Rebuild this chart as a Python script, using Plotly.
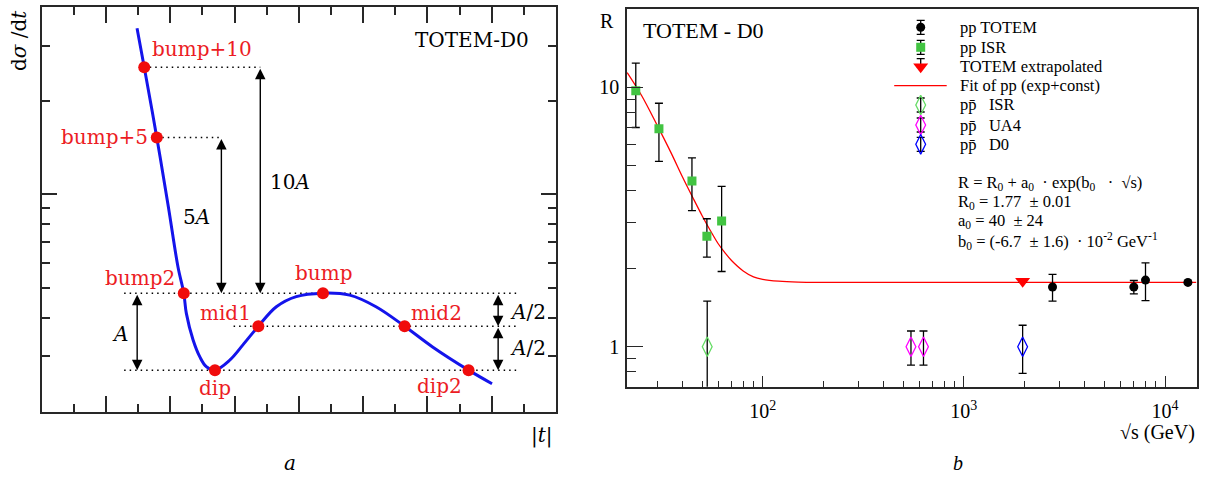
import numpy as np
import plotly.graph_objects as go

# ---------------- Panel a (schematic) ----------------
curve_t = [2.966, 3.19, 3.58, 3.94, 4.24, 4.42, 4.50, 4.71, 4.92, 5.12, 5.39, 5.85, 6.26,
           6.74, 7.30, 7.92, 8.75, 9.58, 10.40, 11.29, 12.16, 13.28, 14.01]
curve_ds = [3.43, 2.57, 1.525, 0.912, 0.583, 0.48, 0.413, 0.339, 0.299, 0.278, 0.271, 0.292, 0.327,
            0.3755, 0.434, 0.468, 0.48, 0.473, 0.434, 0.3755, 0.322, 0.271, 0.245]

pt_names = ["bump+10", "bump+5", "bump2", "dip", "mid1", "bump", "mid2", "dip2"]
pt_t = [3.19, 3.58, 4.42, 5.39, 6.74, 8.75, 11.29, 13.28]
pt_ds = [2.57, 1.525, 0.48, 0.271, 0.3755, 0.48, 0.3755, 0.271]

# ---------------- Panel b (data) ----------------
isr_pp_x = [23.4, 30.5, 44.5, 52.8, 62.5]
isr_pp_y = [9.70, 6.93, 4.35, 2.665, 3.05]
isr_pp_err = [2.7, 1.75, 1.0, 0.45, 1.1]

totem_x = [2760, 7000, 8000, 13000]
totem_y = [1.70, 1.70, 1.807, 1.77]
totem_err = [0.2, 0.1, 0.3, 0.02]

totem_extrap_x = [1960]
totem_extrap_y = [1.79]
totem_extrap_err = [0.02]

isr_ppbar_x = [53.0]
isr_ppbar_y = [1.0]
isr_ppbar_err = [0.5]

ua4_x = [546, 630]
ua4_y = [1.0, 1.0]
ua4_err = [0.15, 0.15]

d0_x = [1960]
d0_y = [1.0]
d0_err = [0.21]

fit_x = [21.2, 25, 30, 35, 40, 45, 50, 55, 60, 65, 70, 80, 90, 100, 120, 150, 200, 500, 2000, 14300]
fit_y = [11.4, 9.3, 7.1, 5.6, 4.5, 3.75, 3.2, 2.8, 2.5, 2.3, 2.15, 1.96, 1.86, 1.82, 1.79, 1.775,
         1.77, 1.77, 1.77, 1.77]

PBAR = "p\u0304"
legend_labels = ["pp TOTEM", "pp ISR", "TOTEM extrapolated", "Fit of pp (exp+const)",
                 "p" + PBAR + "\u00a0\u00a0 ISR", "p" + PBAR + "\u00a0\u00a0 UA4", "p" + PBAR + "\u00a0\u00a0 D0"]

formula_lines = [
    "R = R<sub>0</sub> + a<sub>0</sub> \u00a0· exp(b<sub>0</sub> \u00a0\u00a0· \u00a0\u221as)",
    "R<sub>0</sub> = 1.77 \u00a0± 0.01",
    "a<sub>0</sub> = 40 \u00a0± 24",
    "b<sub>0</sub> = (-6.7 \u00a0± 1.6) \u00a0· 10<sup>-2</sup> GeV<sup>-1</sup>",
]

W, H = 1206, 477
SERIF_A = "DejaVu Serif"
SERIF_B = "Liberation Serif"
RED = "rgb(236,28,36)"

fig = go.Figure()

# ---- panel a traces ----
L = np.log10
guides = [  # (t_start, t_end, level)
    (pt_t[0], 6.80, pt_ds[0]),
    (pt_t[1], 5.59, pt_ds[1]),
    (2.565, 14.80, pt_ds[5]),
    (5.97, 14.80, pt_ds[4]),
    (2.565, 14.80, pt_ds[3]),
]
for t0, t1, lv in guides:
    fig.add_trace(go.Scatter(x=[t0, t1], y=[lv, lv], mode="lines", xaxis="x", yaxis="y",
                             line=dict(color="black", width=1.5, dash="1.5px,4px"),
                             showlegend=False, hoverinfo="skip"))

fig.add_trace(go.Scatter(x=curve_t, y=curve_ds, mode="lines", xaxis="x", yaxis="y",
                         line=dict(color="rgb(20,20,235)", width=3, shape="spline"),
                         showlegend=False))
fig.add_trace(go.Scatter(x=pt_t, y=pt_ds, mode="markers", xaxis="x", yaxis="y",
                         marker=dict(color="rgb(240,12,12)", size=12),
                         showlegend=False))

# ---- panel b traces ----
def ebar(arr, minus=None):
    d = dict(type="data", array=arr, color="black", thickness=1.3, width=4, visible=True)
    if minus is not None:
        d["arrayminus"] = minus
        d["symmetric"] = False
    return d

styles = [
    dict(color="black", size=9, symbol="circle"),
    dict(color="rgb(66,196,66)", size=9, symbol="square"),
    dict(color="red", size=13, symbol="triangle-down"),
    None,
    dict(color="rgb(100,220,100)", size=14, symbol="diamond-tall-open", line=dict(width=1.3)),
    dict(color="rgb(255,0,255)", size=14, symbol="diamond-tall-open", line=dict(width=1.3)),
    dict(color="rgb(0,0,255)", size=14, symbol="diamond-tall-open", line=dict(width=1.3)),
]

fig.add_trace(go.Scatter(x=fit_x, y=fit_y, mode="lines", xaxis="x2", yaxis="y2",
                         line=dict(color="red", width=1.3, shape="spline"), showlegend=False))
series = [(totem_x, totem_y, totem_err, 0), (isr_pp_x, isr_pp_y, isr_pp_err, 1),
          (totem_extrap_x, totem_extrap_y, totem_extrap_err, 2),
          (isr_ppbar_x, isr_ppbar_y, isr_ppbar_err, 4), (ua4_x, ua4_y, ua4_err, 5),
          (d0_x, d0_y, d0_err, 6)]
for sx, sy, se, k in series:
    fig.add_trace(go.Scatter(x=sx, y=sy, mode="markers", xaxis="x2", yaxis="y2",
                             error_y=ebar(se), marker=styles[k], name=legend_labels[k],
                             showlegend=False))

# ---- manual legend (helper axes in pixel units) ----
leg_rows = [27.3, 47.3, 66.7, 85.7, 105.0, 125.0, 144.3]
leg_sym_x = 920.7
leg_txt_x = 958.3
leg_err = [7, 7, None, None, 7, 7, 7]
for k, row in enumerate(leg_rows):
    if styles[k] is None:
        fig.add_trace(go.Scatter(x=[leg_sym_x - 26.5, leg_sym_x + 26], y=[row, row], mode="lines",
                                 xaxis="x3", yaxis="y3", line=dict(color="red", width=1.3),
                                 showlegend=False, hoverinfo="skip"))
        continue
    e = ebar([leg_err[k]]) if leg_err[k] else ebar([0], [8])
    fig.add_trace(go.Scatter(x=[leg_sym_x], y=[row], mode="markers", xaxis="x3", yaxis="y3",
                             marker=styles[k], error_y=e, showlegend=False, hoverinfo="skip"))

# ---- annotations ----
ann = []

def arrow(t, y0, y1):
    ann.append(dict(x=t, y=L(y1), ax=t, ay=L(y0), xref="x", yref="y", axref="x", ayref="y",
                    text="", showarrow=True, arrowhead=2, startarrowhead=2, arrowside="end+start",
                    arrowsize=1.5, startarrowsize=1.5, arrowwidth=1.4, arrowcolor="black",
                    standoff=0, startstandoff=0))

arrow(6.80, pt_ds[0], pt_ds[5])
arrow(5.59, pt_ds[1], pt_ds[5])
arrow(2.97, pt_ds[5], pt_ds[3])
arrow(14.20, pt_ds[5], pt_ds[4])
arrow(14.20, pt_ds[4], pt_ds[3])

def txt(x, y, s, size, color="black", xref="x", yref="y", font=SERIF_A, **kw):
    d = dict(x=x, y=y, text=s, xref=xref, yref=yref, showarrow=False,
             xanchor="center", yanchor="middle",
             font=dict(family=font, size=size, color=color))
    d.update(kw)
    ann.append(d)

label_pos = {"bump+10": (4.975, 0.468), "bump+5": (1.94, 0.186), "bump2": (3.07, -0.271),
             "mid1": (5.72, -0.384), "bump": (8.78, -0.255), "mid2": (12.29, -0.384),
             "dip": (5.39, -0.626), "dip2": (12.39, -0.618)}
for n in pt_names:
    lx, ly = label_pos[n]
    txt(lx, ly, n, 20, RED)

txt(7.71, 0.041, "10<i>A</i>", 20)
txt(4.83, -0.072, "5<i>A</i>", 20)
txt(2.45, -0.450, "<i>A</i>", 20)
txt(15.12, -0.379, "<i>A</i>/2", 20)
txt(15.12, -0.494, "<i>A</i>/2", 20)
txt(13.38, 0.498, "TOTEM-D0", 20)

txt(19 / W, 1 - 41 / H, "d<i>σ</i> /d<i>t</i>", 20, xref="paper", yref="paper", textangle=-90)
txt(542 / W, 1 - 435 / H, "|<i>t</i>|", 20, xref="paper", yref="paper")
txt(290 / W, 1 - 463 / H, "<i>a</i>", 20, xref="paper", yref="paper")

txt(606.7 / W, 1 - 20.7 / H, "R", 20, xref="paper", yref="paper", font=SERIF_B)
txt(641 / W, 1 - 30.7 / H, "TOTEM - D0", 22, xref="paper", yref="paper", font=SERIF_B, xanchor="left")
txt(1197 / W, 1 - 432 / H, "\u221as (GeV)", 20, xref="paper", yref="paper", font=SERIF_B, xanchor="right")
txt(958 / W, 1 - 463 / H, "<i>b</i>", 20, xref="paper", yref="paper", font=SERIF_B)
for i, line in enumerate(formula_lines):
    yc = [183, 202, 221, 241][i]
    txt(956 / W, 1 - yc / H, line, 16.5, xref="paper", yref="paper", font=SERIF_B, xanchor="left")
for k, row in enumerate(leg_rows):
    txt(leg_txt_x / W, 1 - row / H, legend_labels[k], 16.5, xref="paper", yref="paper",
        font=SERIF_B, xanchor="left")

# ---- axes ----
x_major_a = [2, 4, 6, 8, 10, 12, 14]
x_minor_a = [1, 3, 5, 7, 9, 11, 13, 15]
y_major_a = [1]
y_minor_a = [0.3, 0.4, 0.5, 0.6, 0.7, 0.8, 0.9, 2, 3]

x_major_b = [100, 1000, 10000]
x_major_b_text = ["10<sup>2</sup>", "10<sup>3</sup>", "10<sup>4</sup>"]
x_minor_b = [30, 40, 50, 60, 70, 80, 90, 200, 300, 400, 500, 600, 700, 800, 900,
             2000, 3000, 4000, 5000, 6000, 7000, 8000, 9000]
y_major_b = [1, 10]
y_major_b_text = ["1", "10"]
y_minor_b = [0.8, 0.9, 2, 3, 4, 5, 6, 7, 8, 9, 20]

FR = "rgb(40,40,40)"
fig.update_layout(
    width=W, height=H, margin=dict(l=0, r=0, t=0, b=0),
    paper_bgcolor="white", plot_bgcolor="rgba(0,0,0,0)",
    showlegend=False,
    annotations=ann,
    xaxis=dict(domain=[41.7 / W, 556 / W], range=[0, 16], showgrid=False, zeroline=False,
               showline=True, linecolor=FR, linewidth=2, mirror="ticks",
               ticks="inside", tickvals=x_major_a, ticklen=16, tickwidth=1.5, tickcolor=FR,
               showticklabels=False,
               minor=dict(tickvals=x_minor_a, ticks="inside", ticklen=8, tickwidth=1.5, tickcolor=FR)),
    yaxis=dict(domain=[1 - 412 / H, 1 - 7.3 / H], type="log", range=[-0.702, 0.603],
               showgrid=False, zeroline=False,
               showline=True, linecolor=FR, linewidth=2, mirror="ticks",
               ticks="inside", tickvals=y_major_a, ticklen=15, tickwidth=1.5, tickcolor=FR,
               showticklabels=False,
               minor=dict(tickvals=y_minor_a, ticks="inside", ticklen=8, tickwidth=1.5, tickcolor=FR)),
    xaxis2=dict(domain=[627 / W, 1196.7 / W], type="log", range=[1.3255, 4.1576], anchor="y2",
                showgrid=False, zeroline=False,
                showline=True, linecolor=FR, linewidth=1.5, mirror=True,
                ticks="inside", tickvals=x_major_b, ticktext=x_major_b_text, ticklen=11,
                tickwidth=1.3, tickcolor=FR, ticklabelstandoff=6,
                tickfont=dict(family=SERIF_B, size=20, color="black"),
                minor=dict(tickvals=x_minor_b, ticks="inside", ticklen=6, tickwidth=1.3, tickcolor=FR)),
    yaxis2=dict(domain=[1 - 386.7 / H, 1 - 9.3 / H], type="log", range=[-0.154, 1.3007], anchor="x2",
                showgrid=False, zeroline=False,
                showline=True, linecolor=FR, linewidth=1.5, mirror=True,
                ticks="inside", tickvals=y_major_b, ticktext=y_major_b_text, ticklen=16,
                tickwidth=1.3, tickcolor=FR, ticklabelstandoff=2,
                tickfont=dict(family=SERIF_B, size=20, color="black"),
                minor=dict(tickvals=y_minor_b, ticks="inside", ticklen=9, tickwidth=1.3, tickcolor=FR)),
    xaxis3=dict(domain=[0, 1], range=[0, W], visible=False, anchor="y3", fixedrange=True),
    yaxis3=dict(domain=[0, 1], range=[H, 0], visible=False, anchor="x3", fixedrange=True),
)

fig.write_html("out.html", config={"displayModeBar": False},
               post_script="document.body.style.margin='0px';document.body.style.overflow='hidden';")
